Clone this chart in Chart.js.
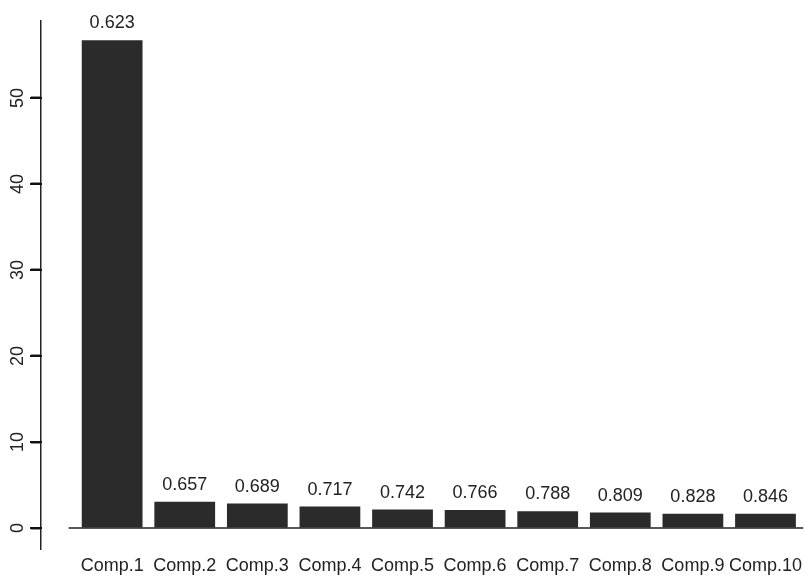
<!DOCTYPE html>
<html>
<head>
<meta charset="utf-8">
<script src="https://cdn.jsdelivr.net/npm/chart.js@4/dist/chart.umd.min.js"></script>
<style>
  html, body { margin: 0; padding: 0; background: #fff; }
  #wrap { width: 808px; height: 576px; }
</style>
</head>
<body>
<div id="wrap"><canvas id="screePlot"></canvas></div>
<script>
// component names, variances (bar heights) and cumulative proportion labels
const components = ['Comp.1', 'Comp.2', 'Comp.3', 'Comp.4', 'Comp.5', 'Comp.6', 'Comp.7', 'Comp.8', 'Comp.9', 'Comp.10'];
const variances = [56.7, 3.05, 2.85, 2.5, 2.15, 2.1, 1.95, 1.8, 1.65, 1.65];
const cumProportion = ['0.623', '0.657', '0.689', '0.717', '0.742', '0.766', '0.788', '0.809', '0.828', '0.846'];

const ink = '#222222';
const fontFamily = '"Liberation Sans", Arial, sans-serif';

// baseline under the bars and tick marks on the y axis, like R's barplot
const axisPlugin = {
    id: 'rAxis',
    afterDraw(chart) {
        const ctx = chart.ctx;
        const x = chart.scales.x;
        const y = chart.scales.y;
        const area = chart.chartArea;
        const y0 = y.getPixelForValue(0);
        ctx.save();
        ctx.strokeStyle = ink;
        ctx.lineWidth = 1.5;
        ctx.beginPath();
        ctx.moveTo(x.getPixelForValue(0.4), y0);
        ctx.lineTo(area.right, y0);
        ctx.stroke();

        // ticks at 0, 10, ... 50 to the left of the axis line
        ctx.strokeStyle = '#111111';
        ctx.lineWidth = 2;
        y.ticks.forEach(t => {
            const py = Math.round(y.getPixelForValue(t.value));
            ctx.beginPath();
            ctx.moveTo(area.left - 11, py);
            ctx.lineTo(area.left + 1, py);
            ctx.stroke();
        });
        ctx.restore();
    }
};

// cumulative proportion text above each bar
const valueLabelPlugin = {
    id: 'valueLabels',
    afterDraw(chart) {
        const ctx = chart.ctx;
        const meta = chart.getDatasetMeta(0);
        ctx.save();
        ctx.fillStyle = ink;
        ctx.font = '18px ' + fontFamily;
        ctx.textAlign = 'center';
        ctx.textBaseline = 'alphabetic';
        meta.data.forEach((bar, i) => {
            ctx.fillText(cumProportion[i], bar.x, bar.y - 12);
        });
        ctx.restore();
    }
};

const ctx = document.getElementById('screePlot').getContext('2d');
const screePlot = new Chart(ctx, {
    type: 'bar',
    data: {
        datasets: [{
            data: variances.map((v, i) => ({ x: i + 1, y: v })),
            backgroundColor: '#2b2b2b',
            borderWidth: 0,
            categoryPercentage: 1.0,
            barPercentage: 0.837
        }]
    },
    plugins: [axisPlugin, valueLabelPlugin],
    options: {
        responsive: true,
        maintainAspectRatio: false,
        animation: false,
        layout: { padding: { top: 21, right: 0, left: 0, bottom: 0 } },
        plugins: {
            legend: { display: false },
            tooltip: { enabled: false }
        },
        scales: {
            x: {
                type: 'linear',
                offset: false,
                min: 0.02,
                max: 10.52,
                grid: { display: false, drawTicks: false, offset: false },
                border: { display: false },
                afterFit(scale) { scale.height = 27; },
                ticks: {
                    stepSize: 1,
                    includeBounds: false,
                    autoSkip: false,
                    maxRotation: 0,
                    padding: 6,
                    color: ink,
                    font: { family: fontFamily, size: 18 },
                    callback: v => components[v - 1] || ''
                }
            },
            y: {
                min: -2.44,
                max: 58.95,
                afterFit(scale) { scale.width = 41; },
                grid: {
                    display: true,
                    drawOnChartArea: false,
                    drawTicks: true,
                    tickLength: 10,
                    color: ink,
                    tickWidth: 2
                },
                border: { display: true, color: ink, width: 1.5 },
                ticks: {
                    stepSize: 10,
                    includeBounds: false,
                    minRotation: 90,
                    maxRotation: 90,
                    crossAlign: 'center',
                    padding: 3,
                    color: ink,
                    font: { family: fontFamily, size: 18 }
                }
            }
        }
    }
});
</script>
</body>
</html>
